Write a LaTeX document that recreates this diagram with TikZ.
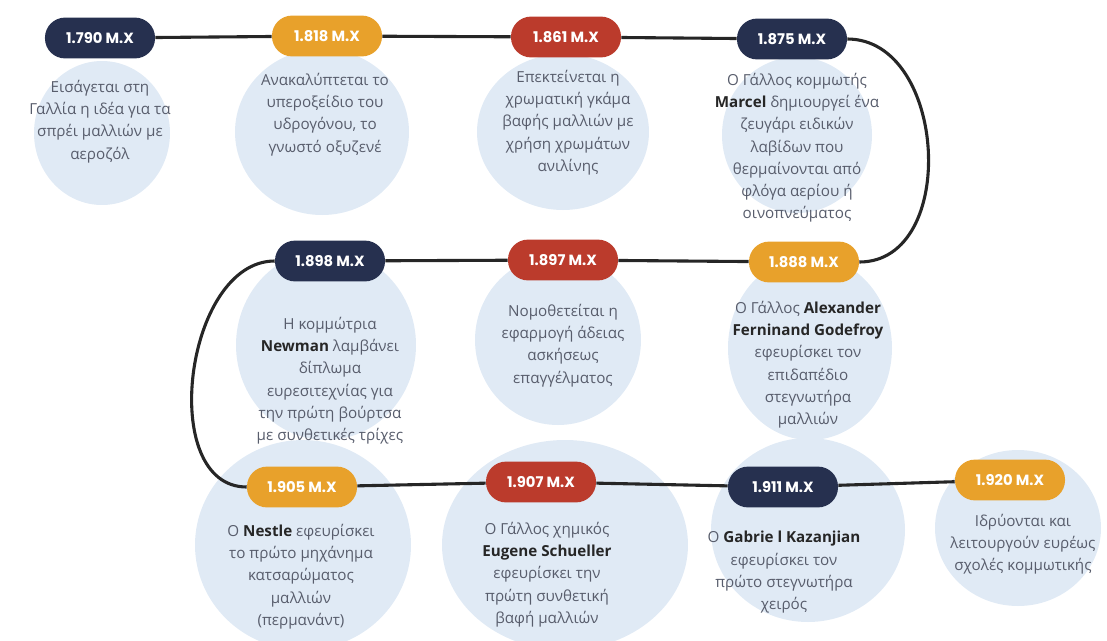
\documentclass[tikz,border=0pt]{standalone}
\usepackage{fontspec}
\setmainfont{Open Sans}
\newfontfamily\yearfont{Poppins}
\definecolor{navy}{HTML}{26304F}
\definecolor{amber}{HTML}{E8A12B}
\definecolor{brick}{HTML}{BB3B2C}
\definecolor{haze}{HTML}{E0EAF5}
\definecolor{ink}{HTML}{585D6C}
\newcommand\who[1]{\textcolor{black!85}{\textbf{#1}}}
\begin{document}
\begin{tikzpicture}[x=0.025cm,y=-0.025cm,
    year/.style={rounded corners=0.5cm,minimum width=2.75cm,minimum height=1.02cm,
        text=white,font=\yearfont\bfseries\fontsize{10.5}{12}\selectfont},
    info/.style={anchor=north,align=center,inner sep=0pt,text=ink,
        font=\fontsize{10.8}{15.8}\selectfont},
    link/.style={line width=2.2pt,black!85}]
        \useasboundingbox (0,0) rectangle (1107,640);
        % blobs behind the texts
        \fill[haze] (102,133) ellipse [x radius=68, y radius=72];
        \fill[haze] (322,132) ellipse [x radius=87, y radius=83];
        \fill[haze] (563,132) ellipse [x radius=86, y radius=78];
        \fill[haze] (797,135) ellipse [x radius=75, y radius=78];
        \fill[haze] (326,345) ellipse [x radius=90, y radius=95];
        \fill[haze] (558,340) ellipse [x radius=83, y radius=85];
        \fill[haze] (810,348) ellipse [x radius=82, y radius=92];
        \fill[haze] (303,545) ellipse [x radius=108, y radius=105];
        \fill[haze] (565,545) ellipse [x radius=123, y radius=105];
        \fill[haze] (808,530) ellipse [x radius=97, y radius=92];
        \fill[haze] (1018,528) ellipse [x radius=83, y radius=78];
        % years
        \node[year,fill=navy] at (100,38) (p1790){1.790 M.X};
        \node[year,fill=amber] at (327,36) (p1818){1.818 M.X};
        \node[year,fill=brick] at (566,37) (p1861){1.861 M.X};
        \node[year,fill=navy] at (792,39) (p1875){1.875 M.X};
        \node[year,fill=navy] at (330,261) (p1898){1.898 M.X};
        \node[year,fill=brick] at (563,260) (p1897){1.897 M.X};
        \node[year,fill=amber] at (804,262) (p1888){1.888 M.X};
        \node[year,fill=amber] at (302,487) (p1905){1.905 M.X};
        \node[year,fill=brick] at (541,482) (p1907){1.907 M.X};
        \node[year,fill=navy] at (783,487) (p1911){1.911 M.X};
        \node[year,fill=amber] at (1010,480) (p1920){1.920 M.X};
        % timeline
        \draw[link] (p1790) -- (p1818);
        \draw[link] (p1818) -- (p1861);
        \draw[link] (p1861) -- (p1875);
        \draw[link] (p1875.east) .. controls +(100,0) and +(100,0) .. (p1888.east);
        \draw[link] (p1888) -- (p1897);
        \draw[link] (p1897) -- (p1898);
        \draw[link] (p1898.west) .. controls +(-90,0) and +(-90,0) .. (p1905.west);
        \draw[link] (p1905) -- (p1907);
        \draw[link] (p1907) -- (p1911);
        \draw[link] (p1911) -- (p1920);
        % texts
        \node[info] at (100,80) (t1790){Εισάγεται στη\\Γαλλία η ιδέα για τα\\σπρέι μαλλιών με\\αεροζόλ};
        \node[info] at (325,73) (t1818){Ανακαλύπτεται το\\υπεροξείδιο του\\υδρογόνου, το\\γνωστό οξυζενέ};
        \node[info] at (568,70) (t1861){Επεκτείνεται η\\χρωματική γκάμα\\βαφής μαλλιών με\\χρήση χρωμάτων\\ανιλίνης};
        \node[info] at (797,73) (t1875){Ο Γάλλος κομμωτής\\\who{Marcel} δημιουργεί ένα\\ζευγάρι ειδικών\\λαβίδων που\\θερμαίνονται από\\φλόγα αερίου ή\\οινοπνεύματος};
        \node[info] at (330,317) (t1898){Η κομμώτρια\\\who{Newman} λαμβάνει\\δίπλωμα\\ευρεσιτεχνίας για\\την πρώτη βούρτσα\\με συνθετικές τρίχες};
        \node[info] at (563,304) (t1897){Νομοθετείται η\\εφαρμογή άδειας\\ασκήσεως\\επαγγέλματος};
        \node[info] at (808,301) (t1888){Ο Γάλλος \who{Alexander}\\\who{Ferninand Godefroy}\\εφευρίσκει τον\\επιδαπέδιο\\στεγνωτήρα\\μαλλιών};
        \node[info] at (301,524) (t1905){Ο \who{Nestle} εφευρίσκει\\το πρώτο μηχάνημα\\κατσαρώματος\\μαλλιών\\(περμανάντ)};
        \node[info] at (547,522) (t1907){Ο Γάλλος χημικός\\\who{Eugene Schueller}\\εφευρίσκει την\\πρώτη συνθετική\\βαφή μαλλιών};
        \node[info] at (784,531) (t1911){Ο \who{Gabrie l Kazanjian}\\εφευρίσκει τον\\πρώτο στεγνωτήρα\\χειρός};
        \node[info] at (1023,514) (t1920){Ιδρύονται και\\λειτουργούν ευρέως\\σχολές κομμωτικής};
    \end{tikzpicture}
\end{document}
